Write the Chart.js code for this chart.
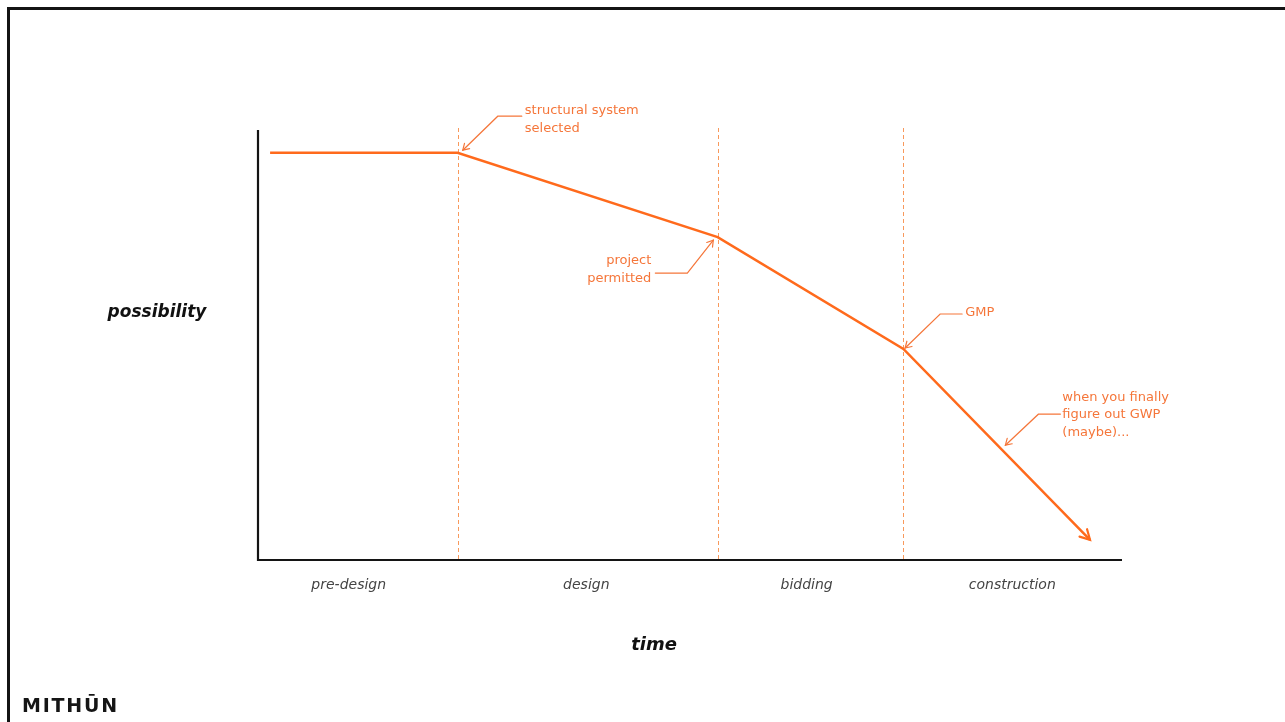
<!DOCTYPE html>
<html><head><meta charset="utf-8">
<script src="https://cdn.jsdelivr.net/npm/chart.js@4.4.1/dist/chart.umd.min.js"></script>
<style>html,body{margin:0;padding:0;background:#fff;}canvas{display:block}</style>
</head><body>
<canvas id="c" width="1285" height="722"></canvas>
<script>
// Curve of design possibility over project time
const timeValues = [1.4, 23.1, 53.2, 74.7, 96.3];
const possibilityValues = [94.7, 94.7, 75.1, 49.1, 4.7];
// Phase boundaries (dashed verticals) and phase names under the time axis
const milestoneTimes = [23.1, 53.2, 74.7];
const phaseLabels = ['pre-design', 'design', 'bidding', 'construction'];
const phaseLabelTimes = [10.5, 38.0, 63.5, 87.3];
// Callouts: text and the point on the curve each one points at
const calloutTexts = [
  ['structural system', 'selected'],
  ['project', 'permitted'],
  ['GMP'],
  ['when you finally', 'figure out GWP', '(maybe)...']
];
const calloutTimes = [23.7, 52.7, 74.9, 86.5];
const calloutPossibility = [95.3, 74.4, 49.3, 26.7];

const ORANGE = '#FF6A1C';
const NOTE = '#F5763A';
const DASH = '#F8995C';

// leader geometry relative to the arrow tip: elbow, end of the shelf, text anchor, line offsets
const calloutLayout = [
  {elbow:[35,-34], end:[59,-34], tx:62, align:'left', ly:[-40,-22]},
  {elbow:[-26,33], end:[-58,33], tx:-62, align:'right', ly:[21,39]},
  {elbow:[35,-34], end:[57,-34], tx:60, align:'left', ly:[-35]},
  {elbow:[33,-31], end:[55,-31], tx:57, align:'left', ly:[-48,-31,-13]}
];

function openArrow(ctx, fromX, fromY, tipX, tipY, len, spread) {
  const a = Math.atan2(tipY - fromY, tipX - fromX);
  ctx.beginPath();
  ctx.moveTo(tipX - len * Math.cos(a - spread), tipY - len * Math.sin(a - spread));
  ctx.lineTo(tipX, tipY);
  ctx.lineTo(tipX - len * Math.cos(a + spread), tipY - len * Math.sin(a + spread));
  ctx.stroke();
}

const decor = {
  id: 'decor',
  beforeDraw(chart) {
    const ctx = chart.ctx;
    ctx.save();
    ctx.fillStyle = '#fff';
    ctx.fillRect(0, 0, chart.width, chart.height);
    // slide frame
    ctx.strokeStyle = '#141414';
    ctx.lineWidth = 3;
    ctx.beginPath();
    ctx.moveTo(8.5, chart.height);
    ctx.lineTo(8.5, 8.5);
    ctx.lineTo(chart.width, 8.5);
    ctx.stroke();
    ctx.restore();
  },
  beforeDatasetsDraw(chart) {
    const {ctx, chartArea: a, scales: {x, y}} = chart;
    ctx.save();
    // phase boundaries
    ctx.strokeStyle = DASH;
    ctx.lineWidth = 1;
    ctx.setLineDash([4, 3]);
    milestoneTimes.forEach(t => {
      const px = Math.round(x.getPixelForValue(t)) + 0.5;
      ctx.beginPath();
      ctx.moveTo(px, a.top - 2);
      ctx.lineTo(px, a.bottom);
      ctx.stroke();
    });
    ctx.setLineDash([]);
    // axes
    ctx.strokeStyle = '#141414';
    ctx.lineWidth = 2.2;
    ctx.beginPath();
    ctx.moveTo(a.left, a.top);
    ctx.lineTo(a.left, a.bottom);
    ctx.lineTo(a.right, a.bottom);
    ctx.stroke();
    ctx.restore();
  },
  afterDatasetsDraw(chart) {
    const {ctx, chartArea: a, scales: {x, y}} = chart;
    ctx.save();
    // arrowhead at the end of the curve
    const n = timeValues.length;
    ctx.strokeStyle = ORANGE;
    ctx.lineWidth = 2.2;
    ctx.lineCap = 'round';
    openArrow(ctx,
      x.getPixelForValue(timeValues[n - 2]), y.getPixelForValue(possibilityValues[n - 2]),
      x.getPixelForValue(timeValues[n - 1]), y.getPixelForValue(possibilityValues[n - 1]), 11, 0.5);

    // callouts
    ctx.font = '13px "DejaVu Sans"';
    ctx.textBaseline = 'middle';
    calloutTexts.forEach((lines, i) => {
      const tx = x.getPixelForValue(calloutTimes[i]);
      const ty = y.getPixelForValue(calloutPossibility[i]);
      const L = calloutLayout[i];
      ctx.strokeStyle = NOTE;
      ctx.lineWidth = 1.2;
      ctx.beginPath();
      ctx.moveTo(tx + L.end[0], ty + L.end[1]);
      ctx.lineTo(tx + L.elbow[0], ty + L.elbow[1]);
      ctx.lineTo(tx, ty);
      ctx.stroke();
      openArrow(ctx, tx + L.elbow[0], ty + L.elbow[1], tx, ty, 7, 0.55);
      ctx.fillStyle = NOTE;
      ctx.textAlign = L.align;
      lines.forEach((s, k) => ctx.fillText(s, tx + L.tx, ty + L.ly[k]));
    });

    // phase names
    ctx.fillStyle = '#444';
    ctx.font = 'italic 14px "DejaVu Sans"';
    ctx.textAlign = 'center';
    phaseLabels.forEach((s, i) => ctx.fillText(s, x.getPixelForValue(phaseLabelTimes[i]), a.bottom + 25));

    // axis titles
    ctx.fillStyle = '#111';
    ctx.font = 'italic bold 17px "DejaVu Sans"';
    ctx.fillText('possibility', 157, 313);
    ctx.font = 'italic bold 18px "DejaVu Sans"';
    ctx.fillText('time', (a.left + a.right) / 2 - 36, a.bottom + 85);

    // logo
    ctx.textAlign = 'left';
    ctx.font = 'bold 19px "DejaVu Sans"';
    ctx.letterSpacing = '1.8px';
    ctx.fillStyle = '#151515';
    ctx.fillText('MITHŪN', 22, 707);
    ctx.restore();
  }
};

new Chart(document.getElementById('c'), {
  type: 'line',
  data: {
    datasets: [{
      data: timeValues.map((t, i) => ({x: t, y: possibilityValues[i]})),
      borderColor: ORANGE,
      borderWidth: 2.5,
      pointRadius: 0,
      tension: 0,
      fill: false
    }]
  },
  options: {
    responsive: false,
    animation: false,
    events: [],
    layout: {padding: {left: 258, right: 163, top: 130, bottom: 162}},
    scales: {
      x: {type: 'linear', min: 0, max: 100, display: false},
      y: {type: 'linear', min: 0, max: 100, display: false}
    },
    plugins: {legend: {display: false}, tooltip: {enabled: false}}
  },
  plugins: [decor]
});
</script>
</body></html>
